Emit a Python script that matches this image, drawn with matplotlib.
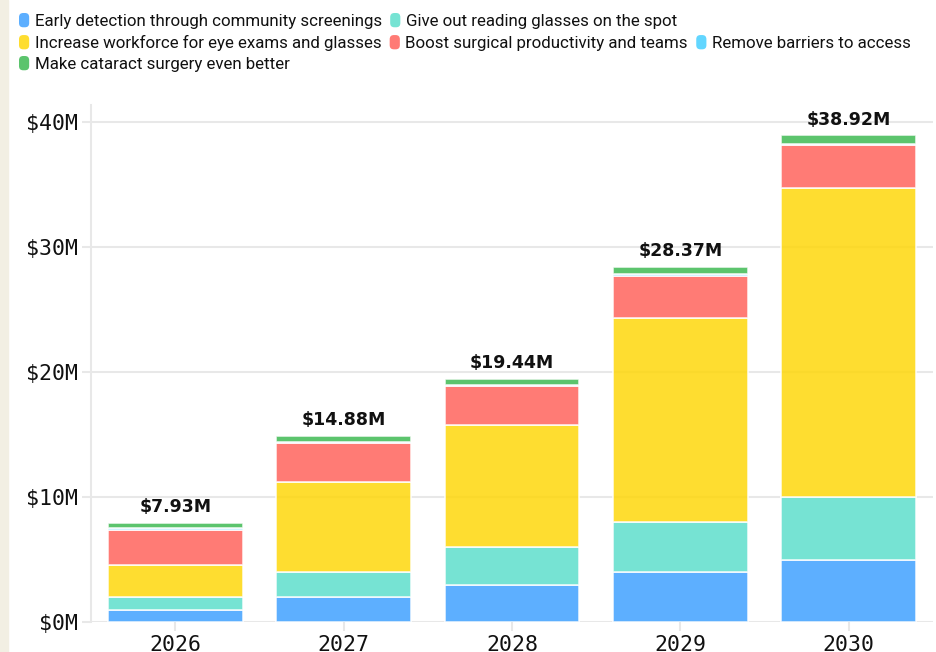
import matplotlib
matplotlib.use("Agg")
import matplotlib.pyplot as plt
import numpy as np
from matplotlib.patches import Patch, FancyBboxPatch, Rectangle
from matplotlib.legend_handler import HandlerPatch
from matplotlib.ticker import FuncFormatter

# data (in $M)
years = ["2026", "2027", "2028", "2029", "2030"]
series_names = [
    "Early detection through community screenings",
    "Give out reading glasses on the spot",
    "Increase workforce for eye exams and glasses",
    "Boost surgical productivity and teams",
    "Remove barriers to access",
    "Make cataract surgery even better",
]
early_detection = [1.0, 2.0, 3.0, 4.0, 5.0]
reading_glasses = [1.0, 2.0, 3.0, 4.0, 5.0]
workforce = [2.6, 7.23, 9.78, 16.3, 24.74]
surgical = [2.8, 3.06, 3.07, 3.4, 3.42]
remove_barriers = [0.1, 0.1, 0.1, 0.1, 0.1]
cataract = [0.43, 0.49, 0.49, 0.57, 0.66]
totals = [7.93, 14.88, 19.44, 28.37, 38.92]

colors = ["#40a1ff", "#5edfcc", "#fed70b", "#ff645d", "#47cfff", "#3fba54"]
alpha = 0.85

fig = plt.figure(figsize=(9.36, 6.52), dpi=100)
fig.patches.append(Rectangle((0, 0), 8 / 936, 1, transform=fig.transFigure,
                             color="#f2efe3", zorder=0))
ax = fig.add_axes([91 / 936, 30 / 652, 842 / 936, 517 / 652])

x = np.arange(len(years))
stack = [early_detection, reading_glasses, workforce, surgical, remove_barriers, cataract]
bottom = np.zeros(len(years))
for name, vals, c in zip(series_names, stack, colors):
    vals = np.array(vals)
    ax.bar(x, vals, 0.8, bottom=bottom, color=c, alpha=alpha,
           edgecolor="white", linewidth=1.2, label=name, zorder=3)
    bottom += vals

for xi, t in zip(x, totals):
    ax.annotate(f"${t:.2f}M", (xi, t), xytext=(0, 5), textcoords="offset points",
                ha="center", va="bottom", fontsize=12.5, fontweight="bold",
                color="#111111", zorder=5)

ax.set_xlim(-0.5, 4.5)
ax.set_ylim(0, 41.36)
ax.set_yticks([0, 10, 20, 30, 40])
ax.yaxis.set_major_formatter(FuncFormatter(lambda v, p: f"${v:.0f}M"))
ax.set_xticks(x)
ax.set_xticklabels(years)

grid_c = "#e8e8e8"
ax.grid(axis="y", color=grid_c, linewidth=1.5, zorder=0)
ax.set_axisbelow(True)
for s in ["top", "right", "bottom"]:
    ax.spines[s].set_visible(False)
ax.spines["left"].set_color(grid_c)
ax.spines["left"].set_linewidth(1.5)
ax.tick_params(axis="both", color=grid_c, width=1.5, length=6.5, pad=3,
               labelsize=15.5, labelcolor="#111111")
for lab in ax.get_xticklabels() + ax.get_yticklabels():
    lab.set_family("DejaVu Sans Mono")


def rounded(legend, orig_handle, xdescent, ydescent, width, height, fontsize):
    return FancyBboxPatch((-xdescent, -ydescent), width, height,
                          boxstyle="round,pad=0,rounding_size=3")


handles = [Patch(facecolor=c, alpha=alpha, edgecolor="none") for c in colors]
rows = [[0, 1], [2, 3, 4], [5]]
row_y = [652 - 13, 652 - 35, 652 - 56]
for r, yy in zip(rows, row_y):
    leg = fig.legend([handles[i] for i in r], [series_names[i] for i in r],
                     loc="upper left", bbox_to_anchor=(19 / 936, yy / 652),
                     ncol=len(r), frameon=False, borderaxespad=0, borderpad=0,
                     handlelength=0.6, handleheight=0.92, handletextpad=0.32,
                     columnspacing=0.5,
                     prop={"family": "Roboto", "size": 12.2},
                     handler_map={Patch: HandlerPatch(patch_func=rounded)})
    for t in leg.get_texts():
        t.set_color("#111111")

fig.savefig("out.png", dpi=100)
